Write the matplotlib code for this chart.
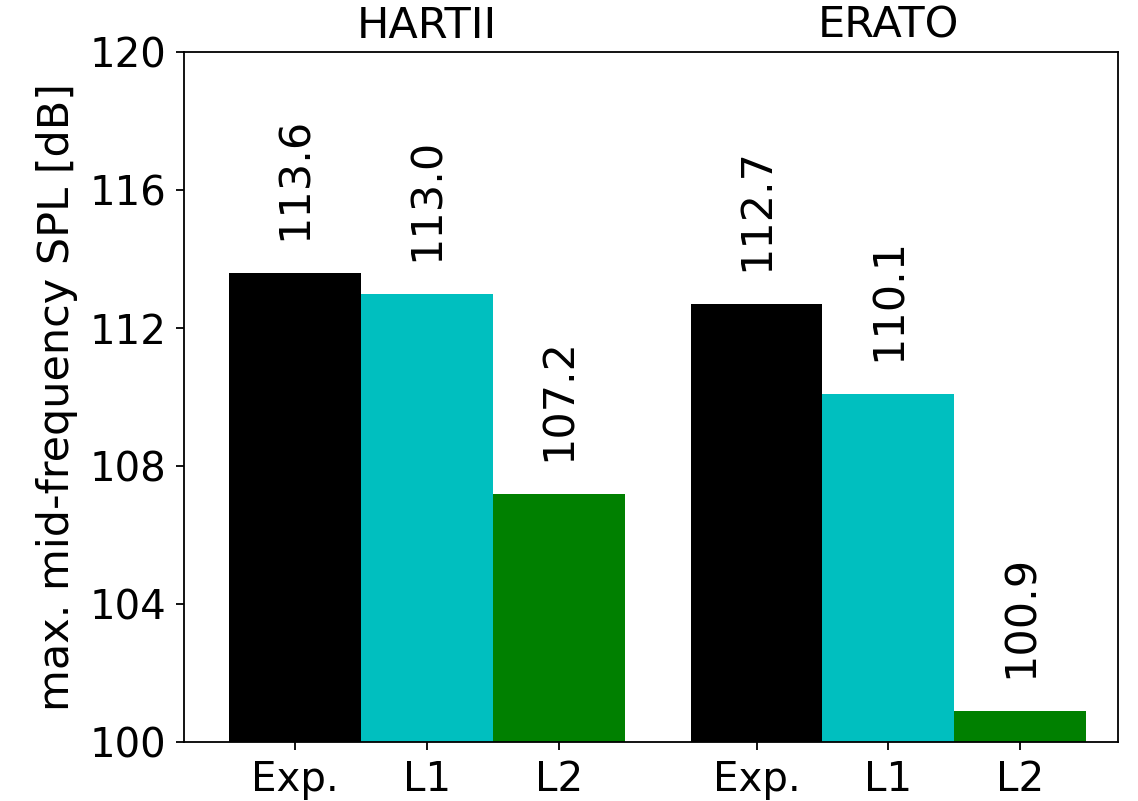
import matplotlib
matplotlib.use("Agg")
import matplotlib.pyplot as plt
import numpy as np

# Maximum mid-frequency SPL per rotor case and method
groups = ["HARTII", "ERATO"]
methods = ["Exp.", "L1", "L2"]
hartii_spl = [113.6, 113.0, 107.2]
erato_spl = [112.7, 110.1, 100.9]
colors = ["black", "c", "green"]

plt.rcParams["font.family"] = "DejaVu Sans"
plt.rcParams["font.size"] = 29

fig = plt.figure(figsize=(11.38, 8.01), dpi=100)
ax = fig.add_axes([0.1617, 0.0737, 0.8207, 0.8613])

group_offsets = [0.0, 3.5]
series = [hartii_spl, erato_spl]
xticks, xlabels = [], []
for off, vals, name in zip(group_offsets, series, groups):
    pos = off + np.arange(len(methods))
    ax.bar(pos, vals, width=1.0, color=colors, bottom=0)
    for p, v in zip(pos, vals):
        ax.text(p, v + 0.95, f"{v:.1f}", rotation=90, ha="center", va="bottom",
                fontsize=31)
    ax.text(pos.mean(), 120.15, name, ha="center", va="bottom", fontsize=31,
            clip_on=False)
    xticks.extend(pos)
    xlabels.extend(methods)

ax.set_ylim(100, 120)
ax.set_xlim(-0.84, 6.24)
ax.set_yticks([100, 104, 108, 112, 116, 120])
ax.set_xticks(xticks)
ax.set_xticklabels(xlabels, fontsize=29)
ax.tick_params(axis="y", labelsize=29)
ax.tick_params(length=6, width=1.3, pad=7)
ax.set_ylabel("max. mid-frequency SPL [dB]", fontsize=31, labelpad=8)
for s in ax.spines.values():
    s.set_linewidth(1.3)

fig.savefig("out.png", dpi=100)
